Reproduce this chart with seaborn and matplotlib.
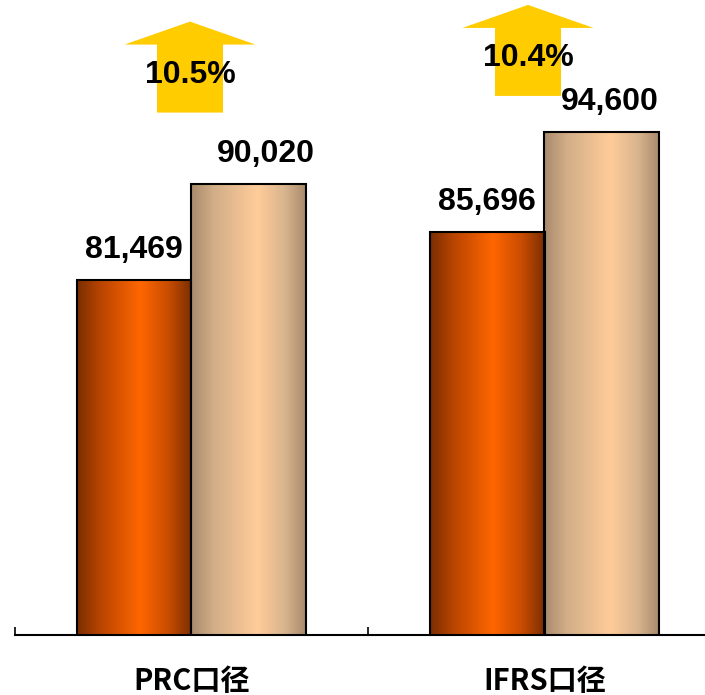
import numpy as np
import pandas as pd
import matplotlib
matplotlib.use("Agg")
import matplotlib.pyplot as plt
import matplotlib.transforms as mtransforms
from matplotlib.colors import LinearSegmentedColormap
from matplotlib.patches import Polygon
import seaborn as sns

# ---- data ----
categories = ["PRC口径", "IFRS口径"]
series_names = ["before", "after"]
values_before = [81469, 85696]
values_after = [90020, 94600]

df = pd.DataFrame({
    "category": categories * 2,
    "series": [series_names[0]] * 2 + [series_names[1]] * 2,
    "value": values_before + values_after,
})

sns.set_theme(style="white")
plt.rcParams["font.family"] = ["Liberation Sans", "DejaVu Sans"]

DPI = 100
fig = plt.figure(figsize=(7.05, 6.95), dpi=DPI)
W, H = 705, 695
ax = fig.add_axes([15 / W, 60 / H, 706 / W, 635 / H])

sns.barplot(data=df, x="category", y="value", hue="series", order=categories,
            hue_order=series_names, palette=["#FF6600", "#FFCC99"], width=0.65,
            dodge=True, legend=False, ax=ax, saturation=1, errorbar=None)

ymin = 50000
ymax = ymin + 635 / 0.01128
ax.set_xlim(-0.5, 1.5)
ax.set_ylim(ymin, ymax)

cmaps = [
    LinearSegmentedColormap.from_list("o", [(0, "#7A2E00"), (0.2, "#B84400"), (0.55, "#FF6600"), (0.8, "#C84C00"), (1, "#7A2E00")]),
    LinearSegmentedColormap.from_list("t", [(0, "#A88A6C"), (0.2, "#D2AE88"), (0.58, "#FFCC99"), (0.82, "#D8B48E"), (1, "#A88A6C")]),
]
grad = np.linspace(0, 1, 256).reshape(1, -1)
for cont, cmap in zip(ax.containers, cmaps):
    for bar in cont:
        x0, w, h = bar.get_x(), bar.get_width(), bar.get_height()
        ax.imshow(grad, cmap=cmap, extent=[x0, x0 + w, ymin, h],
                  aspect="auto", zorder=2, interpolation="bilinear")
        bar.set_facecolor("none")
        bar.set_edgecolor("black")
        bar.set_linewidth(1.5)
        bar.set_zorder(3)
ax.set_xlim(-0.5, 1.5)
ax.set_ylim(ymin, ymax)
ax.set_aspect("auto")

# value labels
label_dx = [[0, 0], [17, 8]]  # px offsets per series/category
for si, cont in enumerate(ax.containers):
    for ci, bar in enumerate(cont):
        v = bar.get_height()
        ax.annotate(f"{int(v):,}", (bar.get_x() + bar.get_width() / 2, v),
                    xytext=(label_dx[si][ci] * 72 / DPI, 22 * 72 / DPI),
                    textcoords="offset points", ha="center", va="baseline",
                    fontsize=23, fontweight="bold", color="black", zorder=5)

# growth arrows
arrow_dx = [-1.5, -16.5]   # px
arrow_dy = [71, 36]        # px above taller bar
for ci in range(len(categories)):
    pct = (values_after[ci] / values_before[ci] - 1) * 100
    top = max(values_before[ci], values_after[ci])
    off = mtransforms.ScaledTranslation(ci, top, ax.transData)
    tr = fig.dpi_scale_trans + off
    bx, by = arrow_dx[ci], arrow_dy[ci]
    pts = np.array([
        [bx - 33, by], [bx + 33, by], [bx + 33, by + 68], [bx + 65.5, by + 68],
        [bx, by + 91], [bx - 65.5, by + 68], [bx - 33, by + 68],
    ]) / DPI
    poly = Polygon(pts, closed=True, facecolor="#FFCC00", edgecolor="none",
                   transform=tr, zorder=4, clip_on=False)
    ax.add_patch(poly)
    ax.text(bx / DPI, (by + 38) / DPI, f"{pct:.1f}%", transform=tr,
            ha="center", va="center", fontsize=23, fontweight="bold",
            color="black", zorder=6)

# axes styling
for s in ["top", "right", "left"]:
    ax.spines[s].set_visible(False)
ax.spines["bottom"].set_color("black")
ax.spines["bottom"].set_linewidth(1.5)
ax.spines["bottom"].set_zorder(6)
ax.set_yticks([])
ax.set_xticks([0, 1])
ax.set_xticklabels(categories, fontfamily=["Noto Sans CJK SC", "DejaVu Sans"],
                   fontsize=21, fontweight="bold")
ax.set_xticks([-0.5, 0.5, 1.5], minor=True)
ax.tick_params(axis="x", which="major", length=0, pad=22, colors="black")
ax.tick_params(axis="x", which="minor", direction="in", length=6, width=1.2,
               color="black", bottom=True)
ax.set_xlabel("")
ax.set_ylabel("")
ax.patch.set_alpha(0)

fig.savefig("out.png", dpi=DPI)
